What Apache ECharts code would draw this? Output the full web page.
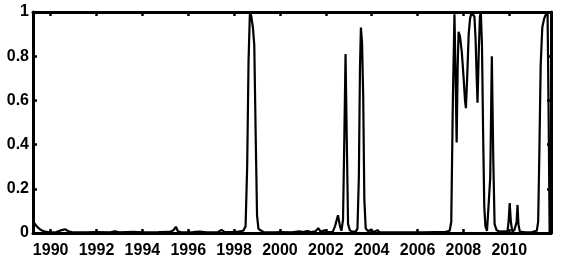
<!DOCTYPE html>
<html>
<head>
<meta charset="utf-8">
<script src="https://cdn.jsdelivr.net/npm/echarts@6/dist/echarts.min.js"></script>
<style>
html,body{margin:0;padding:0;background:#fff;}
#chart{width:561px;height:263px;}
</style>
</head>
<body>
<div id="chart"></div>
<script>
// Decimal-year time stamps and the plotted probability values
var years = [
  1989.23,1989.33,1989.45,1989.6,1989.75,1989.95,1990.25,1990.45,1990.62,1990.78,1990.95,
  1991.5,1992.0,1992.6,1992.8,1993.0,1993.6,1994.0,1994.7,1995.2,1995.35,1995.46,1995.55,1995.7,
  1996.2,1996.5,1996.8,1997.3,1997.45,1997.58,1997.9,1998.2,1998.4,1998.5,1998.57,1998.63,
  1998.69,1998.75,1998.82,1998.88,1998.94,1999.0,1999.06,1999.15,1999.3,1999.8,2000.0,2000.5,
  2000.85,2001.0,2001.2,2001.35,2001.55,2001.67,2001.78,2001.95,2002.05,2002.3,2002.4,2002.53,
  2002.62,2002.68,2002.75,2002.81,2002.86,2002.91,2002.97,2003.05,2003.15,2003.22,2003.3,
  2003.38,2003.44,2003.49,2003.53,2003.58,2003.63,2003.68,2003.74,2003.85,2003.98,2004.08,
  2004.25,2004.35,2004.8,2005.5,2006.2,2006.8,2007.2,2007.4,2007.47,2007.54,2007.61,2007.66,
  2007.705,2007.75,2007.79,2007.85,2007.93,2008.01,2008.07,2008.11,2008.17,2008.23,2008.29,
  2008.35,2008.42,2008.48,2008.53,2008.58,2008.615,2008.67,2008.72,2008.76,2008.81,2008.86,
  2008.91,2008.96,2009.03,2009.1,2009.17,2009.24,2009.3,2009.36,2009.45,2009.6,2009.75,
  2009.92,2009.97,2010.02,2010.07,2010.13,2010.22,2010.29,2010.32,2010.36,2010.4,2010.46,
  2010.7,2011.0,2011.2,2011.26,2011.31,2011.37,2011.44,2011.52,2011.6,2011.67,2011.72,2011.76
];
var values = [
  0.054,0.038,0.024,0.012,0.006,0.003,0.004,0.012,0.017,0.008,0.003,
  0.003,0.004,0.003,0.007,0.003,0.005,0.003,0.004,0.005,0.012,0.028,0.008,0.003,
  0.004,0.006,0.003,0.004,0.014,0.005,0.004,0.006,0.01,0.03,0.3,0.78,
  1.0,0.98,0.93,0.85,0.45,0.08,0.02,0.012,0.004,0.003,0.004,0.003,
  0.007,0.004,0.009,0.004,0.008,0.022,0.005,0.012,0.004,0.005,0.03,0.08,
  0.03,0.01,0.06,0.45,0.81,0.45,0.04,0.012,0.006,0.014,0.006,
  0.02,0.25,0.75,0.93,0.86,0.62,0.15,0.02,0.008,0.016,0.004,
  0.013,0.003,0.003,0.003,0.003,0.004,0.004,0.01,0.05,0.6,0.99,0.7,
  0.41,0.75,0.91,0.89,0.82,0.7,0.6,0.565,0.72,0.9,0.97,
  0.995,1.0,0.98,0.88,0.7,0.59,0.82,0.98,1.0,0.85,0.45,
  0.12,0.03,0.01,0.015,0.25,0.8,0.35,0.04,0.012,0.006,0.008,
  0.006,0.05,0.135,0.05,0.008,0.012,0.01,0.05,0.127,0.04,0.006,
  0.003,0.004,0.01,0.05,0.35,0.76,0.93,0.97,0.99,1.0,0.5,0.0
];
var xTickYears = [1990,1992,1994,1996,1998,2000,2002,2004,2006,2008,2010];
var xMin = 1989.23, xMax = 2011.82;
var yMin = 0, yMax = 1, yStep = 0.2;

var seriesData = years.map(function (t, i) { return [t, values[i]]; });

var font = {fontFamily: 'Liberation Sans, Arial, sans-serif', fontWeight: 'bold', fontSize: 16, color: '#000'};
var frameLine = {show: true, onZero: false, lineStyle: {color: '#000', width: 3}};
var tickStyle = {color: '#000', width: 2.5};

var chart = echarts.init(document.getElementById('chart'), null, {renderer: 'canvas'});
chart.setOption({
  animation: false,
  backgroundColor: '#fff',
  grid: {left: 33, right: 10, top: 12, bottom: 30, containLabel: false},
  xAxis: [{
    type: 'value', position: 'bottom', min: xMin, max: xMax,
    axisLine: frameLine,
    axisTick: {show: true, inside: true, length: 4, customValues: xTickYears, lineStyle: tickStyle},
    axisLabel: Object.assign({show: true, margin: 10, customValues: xTickYears,
      formatter: function (v) { return String(Math.round(v)); }}, font),
    splitLine: {show: false}
  }, {
    type: 'value', position: 'top', min: xMin, max: xMax,
    axisLine: frameLine,
    axisTick: {show: true, inside: true, length: 4, customValues: xTickYears, lineStyle: tickStyle},
    axisLabel: {show: false},
    splitLine: {show: false}
  }],
  yAxis: [{
    type: 'value', position: 'left', min: yMin, max: yMax, interval: yStep,
    axisLine: frameLine,
    axisTick: {show: true, inside: true, length: 4, lineStyle: tickStyle},
    axisLabel: Object.assign({show: true, margin: 4}, font),
    splitLine: {show: false}
  }, {
    type: 'value', position: 'right', min: yMin, max: yMax, interval: yStep,
    axisLine: frameLine,
    axisTick: {show: true, inside: true, length: 4, lineStyle: tickStyle},
    axisLabel: {show: false},
    splitLine: {show: false}
  }],
  series: [{
    type: 'line', xAxisIndex: 0, yAxisIndex: 0,
    data: seriesData,
    showSymbol: false, symbol: 'none',
    clip: false,
    lineStyle: {color: '#000', width: 2.2},
    z: 1
  }]
});
</script>
</body>
</html>
